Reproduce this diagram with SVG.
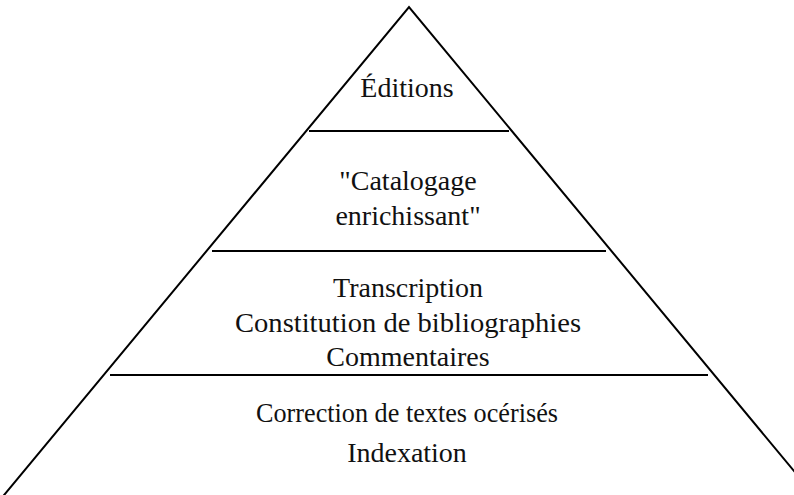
<svg xmlns="http://www.w3.org/2000/svg" width="794" height="495" viewBox="0 0 794 495">
<style>
.edge{fill:none;stroke:#000;stroke-width:2;stroke-linejoin:miter}
.t{font-family:"Liberation Serif","Times New Roman",serif;font-size:28px;fill:#111;text-anchor:middle}
</style>
<rect width="794" height="495" fill="#fff"/>
<g id="pyramid">
<polyline class="edge" points="-10,512 409,7 828,512"/>
</g>
<g id="connectors">
<line class="edge" x1="309" y1="131" x2="509" y2="131"/>
<line class="edge" x1="212" y1="251" x2="606" y2="251"/>
<line class="edge" x1="110" y1="375" x2="708" y2="375"/>
</g>
<g id="level1">
<text class="t" x="407" y="97">Éditions</text>
</g>
<g id="level2">
<text class="t" x="408" y="190">"Catalogage</text>
<text class="t" x="408" y="225">enrichissant"</text>
</g>
<g id="level3">
<text class="t" x="408" y="297">Transcription</text>
<text class="t" x="408" y="332" textLength="346" lengthAdjust="spacingAndGlyphs">Constitution de bibliographies</text>
<text class="t" x="408" y="366">Commentaires</text>
</g>
<g id="level4">
<text class="t" x="407" y="422" textLength="302" lengthAdjust="spacingAndGlyphs">Correction de textes océrisés</text>
<text class="t" x="407" y="462">Indexation</text>
</g>
</svg>
